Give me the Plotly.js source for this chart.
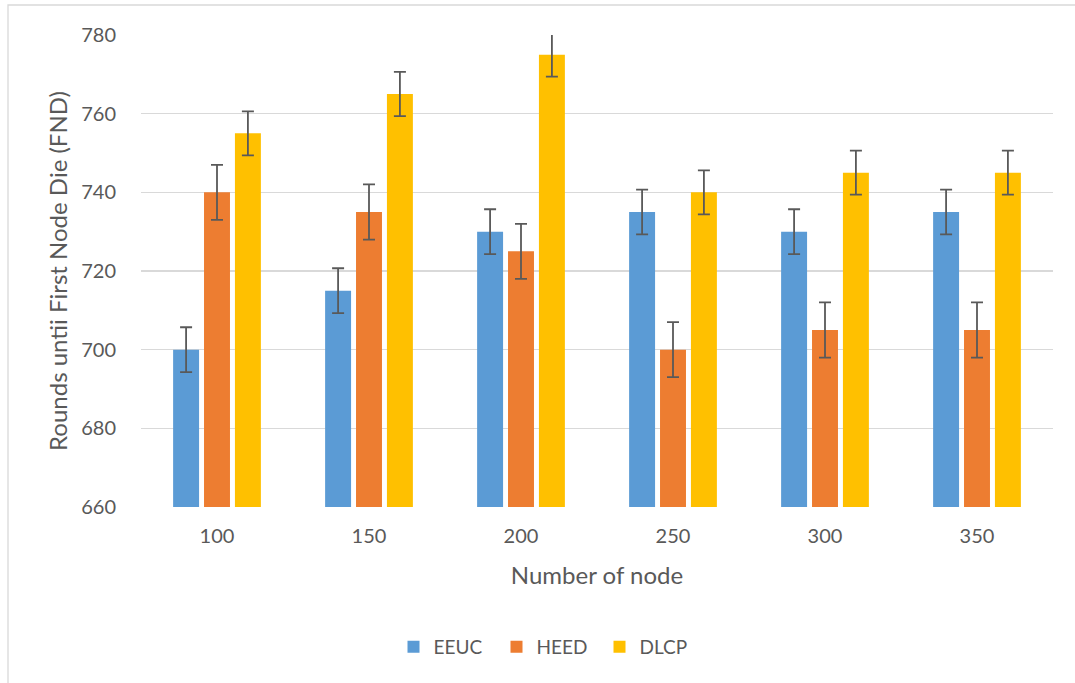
<!DOCTYPE html>
<html>
<head>
<meta charset="utf-8">
<script src="https://cdn.plot.ly/plotly-3.0.1.min.js"></script>
<style>html,body{margin:0;padding:0;background:#fff;}#chart{width:1075px;height:683px;}</style>
</head>
<body>
<div id="chart"></div>
<script>
const categories = ['100', '150', '200', '250', '300', '350'];
const eeuc = [700, 715, 730, 735, 730, 735];
const heed = [740, 735, 725, 700, 705, 705];
const dlcp = [755, 765, 775, 740, 745, 745];
const eeucErr = [5.7, 5.7, 5.7, 5.7, 5.7, 5.7];
const heedErr = [7, 7, 7, 7, 7, 7];
const dlcpErr = [5.6, 5.6, 5.6, 5.6, 5.6, 5.6];

const errStyle = (arr) => ({type: 'data', array: arr, visible: true, color: '#595959', thickness: 1.8, width: 6});

const traces = [
  {type: 'bar', name: 'EEUC', x: categories, y: eeuc, marker: {color: '#5B9BD5'}, error_y: errStyle(eeucErr)},
  {type: 'bar', name: 'HEED', x: categories, y: heed, marker: {color: '#ED7D31'}, error_y: errStyle(heedErr)},
  {type: 'bar', name: 'DLCP', x: categories, y: dlcp, marker: {color: '#FFC000'}, error_y: errStyle(dlcpErr)}
];

const font = {family: 'Lato, "Open Sans", sans-serif', color: '#595959'};
const W = 1075, H = 683;
const L = 141, R = 22, T = 35, B = 176;
const pw = W - L - R, ph = H - T - B;

const layout = {
  width: W, height: H,
  margin: {l: L, r: R, t: T, b: B},
  paper_bgcolor: '#fff', plot_bgcolor: '#fff',
  barmode: 'group', bargap: 0.39, bargroupgap: 0.16,
  font: Object.assign({size: 20}, font),
  xaxis: {
    type: 'category',
    title: {text: 'Number of node', font: Object.assign({}, font, {size: 24}), standoff: 21},
    tickfont: Object.assign({}, font, {size: 20}),
    showgrid: false, zeroline: false, showline: false,
    ticks: 'outside', ticklen: 11, tickcolor: 'rgba(0,0,0,0)',
    automargin: false
  },
  yaxis: {
    range: [660, 780], dtick: 20,
    title: {text: 'Rounds untii First Node Die (FND)', font: Object.assign({}, font, {size: 24}), standoff: 6},
    tickfont: Object.assign({}, font, {size: 20}),
    gridcolor: '#d9d9d9', gridwidth: 1.3, zeroline: false, showline: false,
    ticks: 'outside', ticklen: 20, tickcolor: 'rgba(0,0,0,0)',
    automargin: false
  },
  showlegend: true,
  legend: {
    orientation: 'h', x: (548 - L) / pw, xanchor: 'center', xref: 'paper',
    yref: 'container', y: (H - 647) / H, yanchor: 'middle',
    bgcolor: 'rgba(0,0,0,0)',
    font: Object.assign({}, font, {size: 19}),
    entrywidth: 58, entrywidthmode: 'pixels',
    tracegroupgap: 0
  },
  shapes: [
    {type: 'rect', xref: 'paper', yref: 'paper',
     x0: (8 - L) / pw, x1: (W + 10 - L) / pw,
     y0: -(B + 10) / ph, y1: 1 + (T - 5) / ph,
     line: {color: '#d9d9d9', width: 1.3}, fillcolor: 'rgba(0,0,0,0)', layer: 'below'}
  ]
};

Plotly.newPlot('chart', traces, layout, {displayModeBar: false, staticPlot: true});
</script>
</body>
</html>
